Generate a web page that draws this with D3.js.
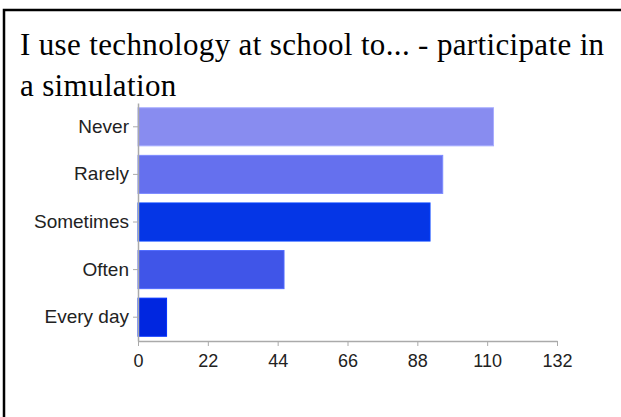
<!DOCTYPE html>
<html>
<head>
<meta charset="utf-8">
<script src="https://cdn.jsdelivr.net/npm/d3@7"></script>
<style>
  html, body { margin: 0; padding: 0; background: #fff; }
  svg { display: block; }
</style>
</head>
<body>
<script>
const titleLines = ["I use technology at school to... - participate in", "a simulation"];
const categories = ["Never", "Rarely", "Sometimes", "Often", "Every day"];
const values = [112, 96, 92, 46, 9];
const barColors = ["#888cf0", "#6570ee", "#0536e6", "#4055e8", "#0026e0"];
const tickValues = [0, 22, 44, 66, 88, 110, 132];

const W = 621, H = 417;
const svg = d3.select("body").append("svg").attr("width", W).attr("height", H);

// frame
svg.append("rect").attr("x", 4).attr("y", 10).attr("width", 800).attr("height", 600)
  .attr("fill", "none").attr("stroke", "#000").attr("stroke-width", 2.5);

// title
const title = svg.append("text")
  .attr("font-family", "'Liberation Serif', 'Times New Roman', serif")
  .attr("font-size", 31).attr("letter-spacing", 0.35).attr("fill", "#000");
titleLines.forEach((t, i) => {
  title.append("tspan").attr("x", 20).attr("y", 55 + i * 41).text(t);
});

const x = d3.scaleLinear().domain([0, 132]).range([138, 557]);
const y = d3.scaleBand().domain(categories).range([103, 341]).paddingInner(0.2).paddingOuter(0.1);

svg.append("g").selectAll("rect").data(categories).join("rect")
  .attr("x", x(0))
  .attr("y", d => y(d))
  .attr("width", (d, i) => x(values[i]) - x(0))
  .attr("height", y.bandwidth())
  .attr("fill", (d, i) => barColors[i])
  .attr("stroke", (d, i) => d3.color(barColors[i]).brighter(0.6))
  .attr("stroke-width", 1);

const xAxis = svg.append("g").attr("transform", "translate(0,341)")
  .call(d3.axisBottom(x).tickValues(tickValues).tickSizeInner(5).tickSizeOuter(0).tickPadding(8));
const yAxis = svg.append("g").attr("transform", "translate(138,0)")
  .call(d3.axisLeft(y).tickSizeInner(5).tickSizeOuter(0).tickPadding(4));

[xAxis, yAxis].forEach(g => {
  g.select(".domain").attr("stroke", "#aaa").attr("stroke-width", 1.5);
  g.selectAll(".tick line").attr("stroke", "#aaa");
  g.selectAll(".tick text").attr("font-family", "'Liberation Sans', Arial, sans-serif")
    .attr("fill", "#222");
});
xAxis.selectAll(".tick text").attr("font-size", 18);
yAxis.selectAll(".tick text").attr("font-size", 19);
</script>
</body>
</html>
